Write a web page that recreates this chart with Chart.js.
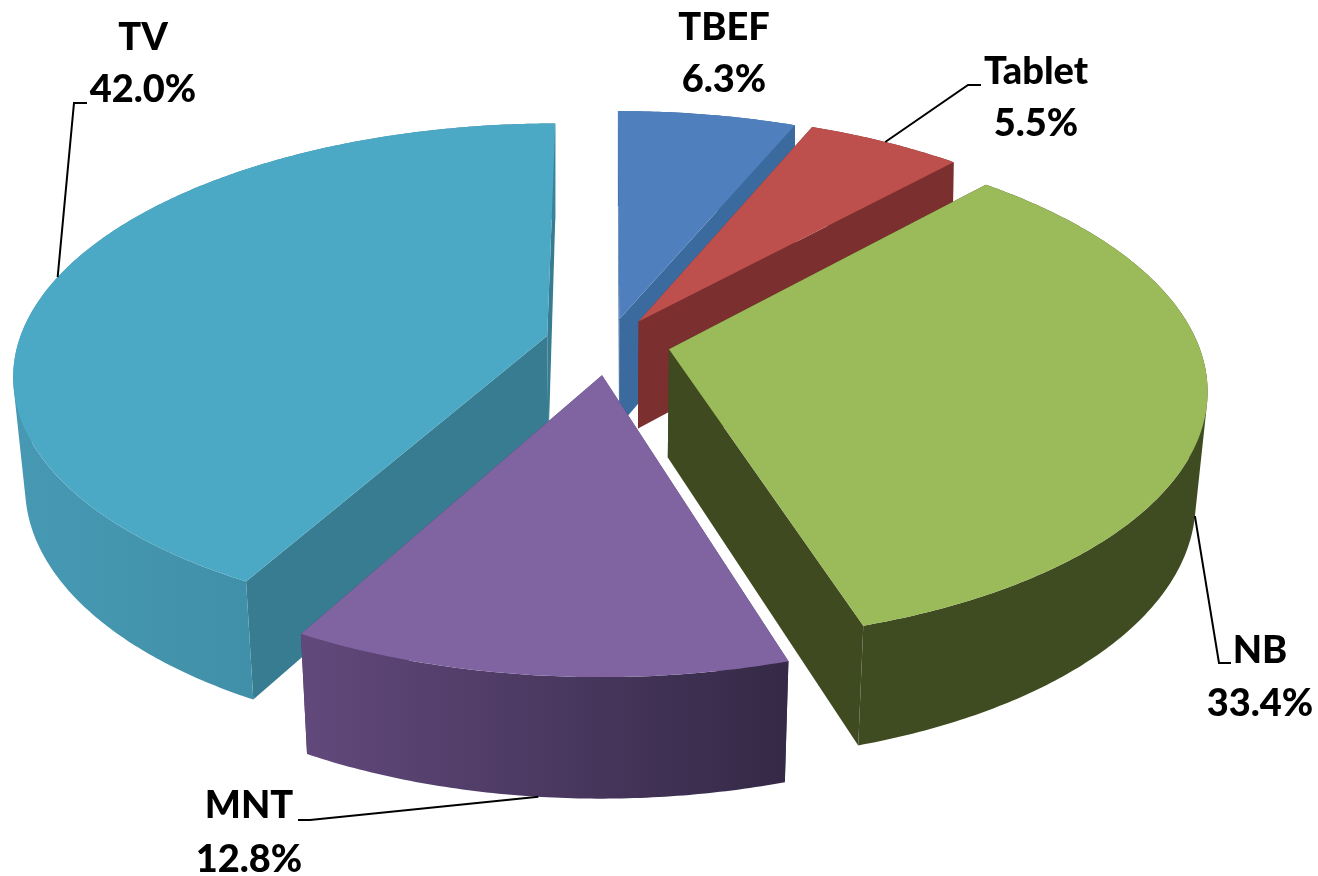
<!DOCTYPE html>
<html>
<head>
<meta charset="utf-8">
<style>
  html, body { margin: 0; padding: 0; background: #fff; }
  canvas { display: block; }
</style>
<script src="https://cdn.jsdelivr.net/npm/chart.js@4/dist/chart.umd.js"></script>
</head>
<body>
<canvas id="pie-3d" width="1318" height="876"></canvas>
<script>
// data
var categories = ["TBEF", "Tablet", "NB", "MNT", "TV"];
var shares = [6.3, 5.5, 33.4, 12.8, 42.0];

// colours per slice
var topColors = ["#4f7fbc", "#bd4f4c", "#9bba59", "#8064a2", "#4ba9c5"];
var cutColors = ["#3a6a9e", "#7b2f2e", "#3f4a20", "#4a3860", "#377c91"];
var wallLeft = ["#3a6a9e", "#7b2f2e", "#3f4c21", "#62497c", "#4799b3"];
var wallRight = ["#3a6a9e", "#7b2f2e", "#3f4c21", "#342946", "#39849c"];
var explode = [38, 40, 44, 49, 46];

// label placement: centre x, baseline of name, baseline of value
var labelPos = [
  [724, 40, 92],
  [1036, 84, 136],
  [1260, 663, 716],
  [249, 818, 872],
  [143, 50, 102]
];
// leader lines: elbow and end, null where there is none
var leaders = [
  null,
  [[968, 85], [981, 85]],
  [[1219, 663], [1231, 663]],
  [[310, 820], [298, 820]],
  [[74, 103], [87, 103]]
];

// the "3D" view of the pie plane
var view = { cx: 609, cy: 343, rx: 529, ry: 246, persp: 0.15 };

function project(u, v) {
  var k = 1 / (1 - view.persp * v);
  return [view.cx + view.rx * u * k, view.cy + view.ry * v * k];
}
function projectBottom(u, v) {
  var p = project(u, v);
  var scale = v < 0 ? 0.98 - 0.02 * v : 0.98;
  return [view.cx + (p[0] - view.cx) * scale, p[1] + 108 + 12 * v];
}

// slice geometry comes from the arc element of the doughnut controller
function sliceInfo(arc) {
  var r = arc.outerRadius;
  var mid = (arc.startAngle + arc.endAngle) / 2;
  var off = arc.options.offset / r;
  return {
    a: arc.startAngle,
    b: arc.endAngle,
    mid: mid,
    ox: off * Math.cos(mid),
    oy: off * Math.sin(mid)
  };
}
function rimPoints(s, fn) {
  var pts = [];
  var n = Math.ceil((s.b - s.a) / 0.01);
  for (var i = 0; i <= n; i++) {
    var t = s.a + (s.b - s.a) * i / n;
    pts.push(fn(s.ox + Math.cos(t), s.oy + Math.sin(t)));
  }
  return pts;
}
function addPoly(ctx, pts) {
  pts.forEach(function(p, i) {
    if (i === 0) ctx.moveTo(p[0], p[1]); else ctx.lineTo(p[0], p[1]);
  });
  ctx.closePath();
}
function fillPoly(ctx, pts, fill) {
  ctx.beginPath();
  addPoly(ctx, pts);
  ctx.fillStyle = fill;
  ctx.fill();
}
function signedArea(pts) {
  var sum = 0;
  pts.forEach(function(p, i) {
    var q = pts[(i + 1) % pts.length];
    sum += p[0] * q[1] - q[0] * p[1];
  });
  return sum;
}

var pie3d = {
  id: "pie3d",
  beforeDatasetDraw: function() {
    return false; // flat arcs are replaced by the projected ones below
  },
  afterDatasetsDraw: function(chart) {
    var ctx = chart.ctx;
    var arcs = chart.getDatasetMeta(0).data;
    var slices = arcs.map(function(arc, i) {
      var s = sliceInfo(arc);
      s.index = i;
      return s;
    });

    // back to front
    var order = slices.slice().sort(function(a, b) { return a.oy - b.oy; });
    order.forEach(function(s) {
      var i = s.index;
      var top = rimPoints(s, project);
      var bottom = rimPoints(s, projectBottom);
      var apexTop = project(s.ox, s.oy);
      var apexBottom = projectBottom(s.ox, s.oy);

      // the two cut faces
      fillPoly(ctx, [apexTop, top[0], bottom[0], apexBottom], cutColors[i]);
      fillPoly(ctx, [apexTop, top[top.length - 1], bottom[bottom.length - 1], apexBottom], cutColors[i]);

      // outer wall: one path of same-wound strips, so no seams and a closed silhouette
      var xs = top.map(function(p) { return p[0]; });
      var grad = ctx.createLinearGradient(Math.min.apply(null, xs), 0, Math.max.apply(null, xs), 0);
      grad.addColorStop(0, wallLeft[i]);
      grad.addColorStop(1, wallRight[i]);
      ctx.beginPath();
      for (var j = 0; j < top.length - 1; j++) {
        var quad = [top[j], top[j + 1], bottom[j + 1], bottom[j]];
        if (signedArea(quad) < 0) quad.reverse();
        addPoly(ctx, quad);
      }
      ctx.fillStyle = grad;
      ctx.fill();

      // top face
      fillPoly(ctx, [apexTop].concat(top), topColors[i]);
    });

    // leader lines start on the rim at the middle of the slice
    ctx.strokeStyle = "#000";
    ctx.lineWidth = 2;
    slices.forEach(function(s) {
      var leg = leaders[s.index];
      if (!leg) return;
      var u = s.ox + Math.cos(s.mid);
      var v = s.oy + Math.sin(s.mid);
      var start = v > 0 ? projectBottom(u, v) : project(u, v);
      ctx.beginPath();
      ctx.moveTo(start[0], start[1]);
      ctx.lineTo(leg[0][0], leg[0][1]);
      ctx.lineTo(leg[1][0], leg[1][1]);
      ctx.stroke();
    });

    // labels
    ctx.fillStyle = "#000";
    ctx.font = "900 38px Lato";
    ctx.textAlign = "center";
    ctx.textBaseline = "alphabetic";
    categories.forEach(function(name, i) {
      ctx.fillText(name, labelPos[i][0], labelPos[i][1]);
      ctx.fillText(shares[i].toFixed(1) + "%", labelPos[i][0], labelPos[i][2]);
    });
  }
};

var chart1 = new Chart(document.getElementById("pie-3d"), {
  type: "pie",
  data: {
    labels: categories,
    datasets: [{
      data: shares,
      backgroundColor: topColors,
      borderWidth: 0,
      offset: explode
    }]
  },
  options: {
    responsive: false,
    animation: false,
    radius: 380,
    plugins: {
      legend: { display: false },
      tooltip: { enabled: false }
    }
  },
  plugins: [pie3d]
});
</script>
</body>
</html>
